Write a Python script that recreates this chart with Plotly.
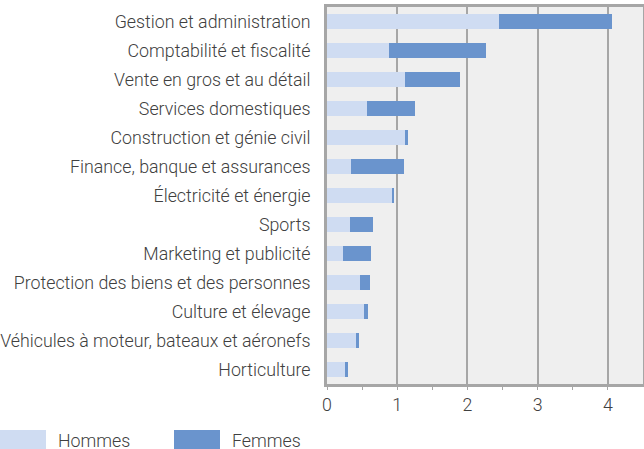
import plotly.graph_objects as go

categories = [
    "Gestion et administration",
    "Comptabilité et fiscalité",
    "Vente en gros et au détail",
    "Services domestiques",
    "Construction et génie civil",
    "Finance, banque et assurances",
    "Électricité et énergie",
    "Sports",
    "Marketing et publicité",
    "Protection des biens et des personnes",
    "Culture et élevage",
    "Véhicules à moteur, bateaux et aéronefs",
    "Horticulture",
]
hommes = [2.45, 0.88, 1.11, 0.57, 1.11, 0.34, 0.925, 0.33, 0.23, 0.47, 0.52, 0.42, 0.26]
femmes = [1.61, 1.38, 0.78, 0.68, 0.04, 0.76, 0.03, 0.325, 0.40, 0.14, 0.07, 0.03, 0.04]
x_ticks = [0, 1, 2, 3, 4]

c_h = "#CFDCF2"
c_f = "#6A94CD"
grid = "#A6A6A6"
txt = "#404040"
font = dict(family="Roboto", size=17.8, color=txt, weight=300)

L, R, T, B = 327, 1, 7, 65
W, H = 644, 449
PW, PH = W - L - R, H - T - B

fig = go.Figure()
fig.add_trace(go.Bar(y=categories, x=hommes, orientation="h", name="Hommes",
                     marker=dict(color=c_h, line=dict(width=0))))
fig.add_trace(go.Bar(y=categories, x=femmes, orientation="h", name="Femmes",
                     marker=dict(color=c_f, line=dict(width=0))))

fig.update_layout(
    template="none",
    barmode="stack",
    bargap=0.48,
    width=W, height=H,
    margin=dict(l=L, r=R, t=T, b=B),
    paper_bgcolor="white",
    plot_bgcolor="#EFEFEF",
    showlegend=False,
    font=font,
)
fig.update_xaxes(
    range=[0, 4.5], tickvals=x_ticks, ticktext=[str(v) for v in x_ticks],
    showgrid=True, gridcolor=grid, gridwidth=2,
    showline=True, linecolor=grid, linewidth=3, mirror=True,
    ticks="outside", ticklen=3, tickcolor=grid, tickwidth=1,
    minor=dict(tickvals=[0.5, 1.5, 2.5, 3.5], ticks="outside", ticklen=3, tickcolor=grid, showgrid=False),
    zeroline=False, tickfont=font, fixedrange=True, automargin=False,
)
fig.update_yaxes(
    categoryorder="array", categoryarray=categories, autorange="reversed",
    showline=True, linecolor=grid, linewidth=3, mirror=True,
    ticks="", showgrid=False, tickfont=font, ticklabelstandoff=10,
    fixedrange=True, automargin=False,
)

# custom legend with wide swatches
legend_items = [("Hommes", c_h, 0), ("Femmes", c_f, 174)]
for name, col, x0 in legend_items:
    px0 = x0 - L
    fig.add_shape(type="rect", xref="paper", yref="paper",
                  x0=px0 / PW, x1=(px0 + 46) / PW,
                  y0=-(430 - (T + PH)) / PH, y1=-(449 - (T + PH)) / PH,
                  line=dict(width=0), fillcolor=col)
    fig.add_annotation(text=name, xref="paper", yref="paper",
                       x=(px0 + 56) / PW, y=-(440 - (T + PH)) / PH,
                       xanchor="left", yanchor="middle", showarrow=False, font=font)

fig.write_html("out.html", config={"displayModeBar": False},
               post_script="document.body.style.margin='0';document.body.style.overflow='hidden';")
